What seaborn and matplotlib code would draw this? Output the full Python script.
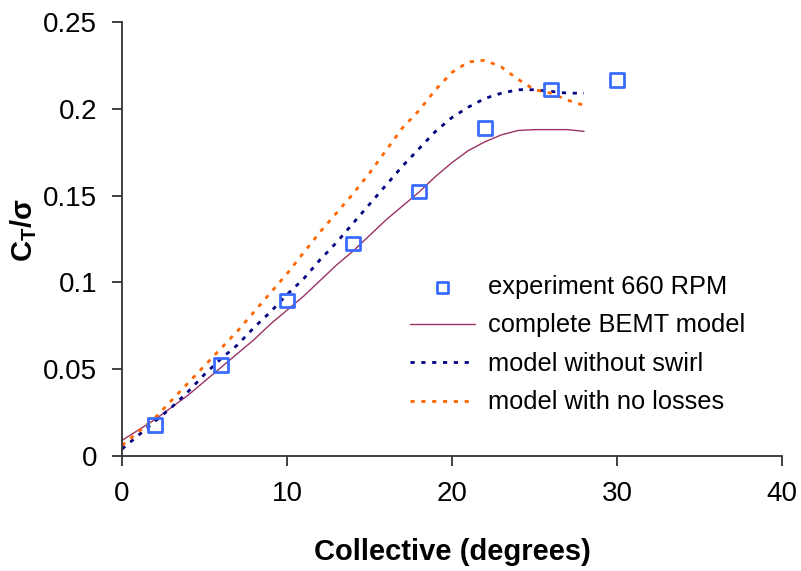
import numpy as np
import pandas as pd
import matplotlib
matplotlib.use("Agg")
import matplotlib.pyplot as plt
import seaborn as sns
from matplotlib.ticker import FixedLocator, FuncFormatter

# ---- data ----
exp_x = [2, 6, 10, 14, 18, 22, 26, 30]
exp_y = [0.0178, 0.0523, 0.0897, 0.1224, 0.1523, 0.189, 0.211, 0.2167]

model_x = list(range(0, 29))
bemt_y = [0.009, 0.015, 0.021, 0.028, 0.035, 0.043, 0.051, 0.059, 0.067, 0.076,
          0.084, 0.092, 0.101, 0.110, 0.118, 0.127, 0.136, 0.144, 0.152, 0.161,
          0.169, 0.176, 0.181, 0.185, 0.1875, 0.188, 0.188, 0.188, 0.187]
noswirl_y = [0.004, 0.012, 0.020, 0.028, 0.037, 0.047, 0.056, 0.064, 0.074, 0.083,
             0.093, 0.102, 0.113, 0.123, 0.134, 0.145, 0.156, 0.167, 0.177, 0.187,
             0.195, 0.201, 0.206, 0.209, 0.211, 0.211, 0.210, 0.209, 0.209]
nolosses_y = [0.006, 0.014, 0.022, 0.032, 0.042, 0.052, 0.062, 0.072, 0.083, 0.094,
              0.105, 0.117, 0.129, 0.140, 0.151, 0.163, 0.176, 0.189, 0.199, 0.211,
              0.221, 0.227, 0.228, 0.224, 0.217, 0.211, 0.209, 0.205, 0.202]

labels = ["experiment 660 RPM", "complete BEMT model",
          "model without swirl", "model with no losses"]
x_ticks = [0, 10, 20, 30, 40]
y_ticks = [0, 0.05, 0.1, 0.15, 0.2, 0.25]

# ---- style ----
sns.set_style("white")
plt.rcParams["font.family"] = ["Liberation Sans", "DejaVu Sans"]
plt.rcParams["text.color"] = "black"
plt.rcParams["axes.labelcolor"] = "black"
plt.rcParams["xtick.color"] = "#333333"
plt.rcParams["ytick.color"] = "#333333"
plt.rcParams["xtick.labelcolor"] = "black"
plt.rcParams["ytick.labelcolor"] = "black"
plt.rcParams["mathtext.fontset"] = "custom"
plt.rcParams["mathtext.rm"] = "Liberation Sans"
plt.rcParams["mathtext.it"] = "Liberation Sans:italic"
plt.rcParams["mathtext.bf"] = "Liberation Sans:bold"

fig = plt.figure(figsize=(8.01, 5.71), dpi=100)
ax = fig.add_axes([122 / 801, 1 - 456 / 571, (782 - 122) / 801, (456 - 22) / 571])

df_exp = pd.DataFrame({"x": exp_x, "y": exp_y})
df_m = pd.DataFrame({"x": model_x, "bemt": bemt_y, "noswirl": noswirl_y, "nolosses": nolosses_y})

dots = (0, (1.5, 2.4))
sns.lineplot(data=df_m, x="x", y="bemt", ax=ax, color="#993366", lw=1.0,
             label=labels[1], estimator=None, sort=False, zorder=2)
sns.lineplot(data=df_m, x="x", y="noswirl", ax=ax, color="#000080", lw=2.0,
             linestyle=dots, label=labels[2], estimator=None, sort=False, zorder=2)
sns.lineplot(data=df_m, x="x", y="nolosses", ax=ax, color="#FF6600", lw=2.0,
             linestyle=dots, label=labels[3], estimator=None, sort=False, zorder=2)
sns.scatterplot(data=df_exp, x="x", y="y", ax=ax, marker="s", s=95,
                facecolor="none", edgecolor="#3A6BFF", linewidth=2.0,
                label=labels[0], zorder=3)

ax.set_xlim(0, 40)
ax.set_ylim(0, 0.25)
ax.xaxis.set_major_locator(FixedLocator(x_ticks))
ax.yaxis.set_major_locator(FixedLocator(y_ticks))
ax.yaxis.set_major_formatter(FuncFormatter(lambda v, p: "%g" % v))
ax.xaxis.set_major_formatter(FuncFormatter(lambda v, p: "%g" % v))

for s in ["top", "right"]:
    ax.spines[s].set_visible(False)
for s in ["left", "bottom"]:
    ax.spines[s].set_color("#333333")
    ax.spines[s].set_linewidth(1.3)
ax.tick_params(axis="both", which="major", direction="out", length=7, width=1.3,
               color="#333333", labelcolor="black", labelsize=20, pad=11,
               bottom=True, left=True)

ax.set_xlabel("Collective (degrees)", fontsize=21, fontweight="bold", labelpad=22,
              color="black")
ax.set_ylabel(r"$\mathbf{C_T/\sigma}$", fontsize=21, color="black")
ax.yaxis.set_label_coords(-(122 - 39) / 660, 0.52)

handles, labs = ax.get_legend_handles_labels()
order = [labs.index(l) for l in labels]
leg = ax.legend([handles[i] for i in order], [labs[i] for i in order],
                loc="upper left", bbox_to_anchor=(410 / 801, 1 - 275 / 571),
                bbox_transform=fig.transFigure, frameon=False, fontsize=18.3,
                handlelength=2.55, handletextpad=0.5, labelspacing=0.57,
                borderpad=0, borderaxespad=0, markerscale=0.8)
for t in leg.get_texts():
    t.set_color("black")

fig.savefig("out.png", dpi=100)
